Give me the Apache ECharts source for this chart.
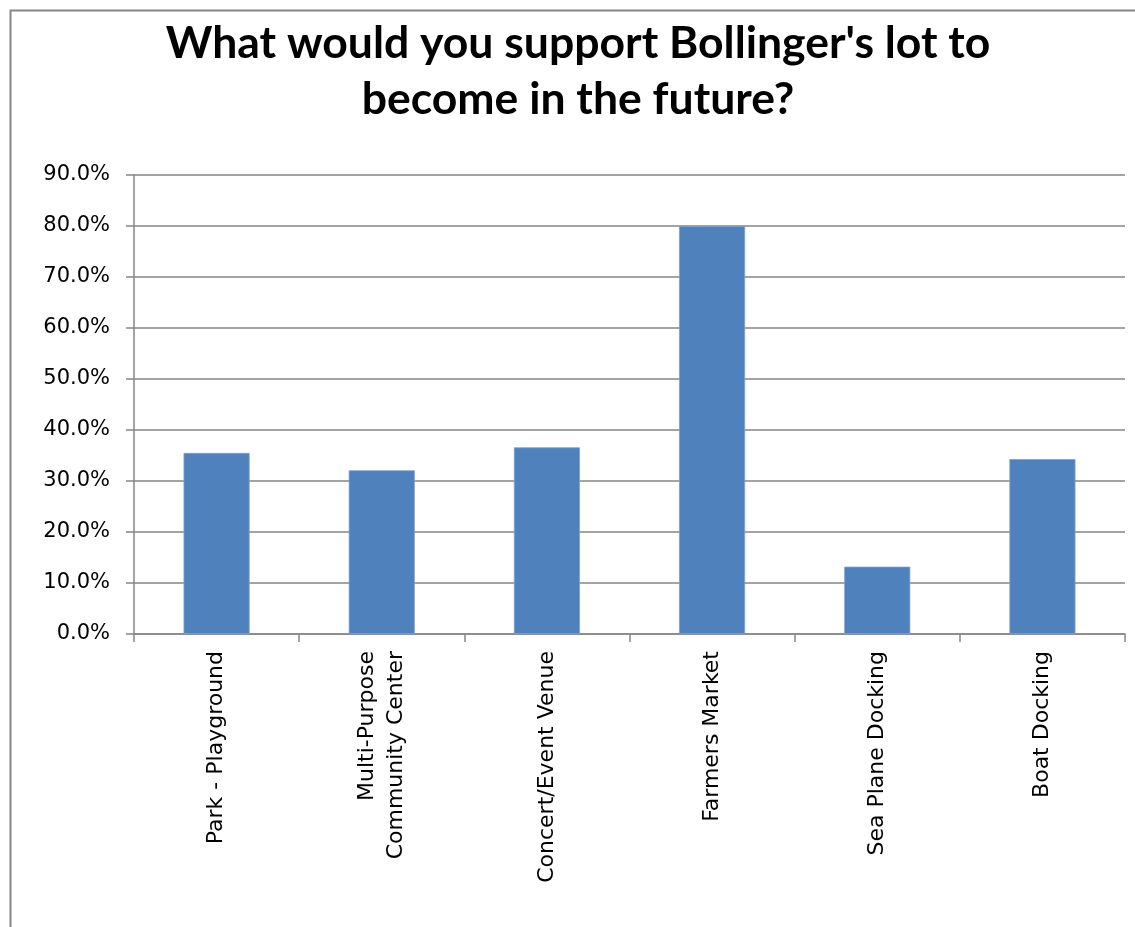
<!DOCTYPE html>
<html>
<head>
<meta charset="utf-8">
<script src="https://cdn.jsdelivr.net/npm/echarts@6/dist/echarts.min.js"></script>
<style>
html,body{margin:0;padding:0;background:#fff;}
#chart{width:1135px;height:927px;}
</style>
</head>
<body>
<div id="chart"></div>
<script>
const categories = ["Park - Playground", "Multi-Purpose\nCommunity Center", "Concert/Event Venue", "Farmers Market", "Sea Plane Docking", "Boat Docking"];
const values = [35.5, 32.1, 36.6, 80.0, 13.2, 34.3];
const titleText = "What would you support Bollinger's lot to\nbecome in the future?";

const chart = echarts.init(document.getElementById('chart'));
const gray = '#868686';
chart.setOption({
  backgroundColor: '#ffffff',
  animation: false,
  graphic: [{
    type: 'rect', left: 8, top: 8, silent: true,
    shape: { width: 2000, height: 2000 },
    style: { fill: 'none', stroke: gray, lineWidth: 2 }
  }],
  title: {
    text: titleText,
    left: 573, top: 11, textAlign: 'center',
    textStyle: { fontFamily: 'Lato', fontWeight: 'bold', fontSize: 44.5, lineHeight: 56, color: '#000' }
  },
  grid: { left: 134, right: 10, top: 175, bottom: 293, containLabel: false },
  xAxis: {
    type: 'category', data: categories,
    axisLine: { lineStyle: { color: gray, width: 1.5 } },
    axisTick: { show: true, length: 8, lineStyle: { color: gray, width: 1.5 } },
    axisLabel: { rotate: 90, interval: 0, margin: 17, color: '#000', fontFamily: 'DejaVu Sans', fontSize: 22, lineHeight: 29 }
  },
  yAxis: {
    type: 'value', min: 0, max: 90, interval: 10,
    axisLine: { show: true, lineStyle: { color: gray, width: 1.5 } },
    axisTick: { show: true, length: 8, lineStyle: { color: gray, width: 1.5 } },
    splitLine: { lineStyle: { color: gray, width: 1.5 } },
    axisLabel: { margin: 24, color: '#000', fontFamily: 'DejaVu Sans', fontSize: 21, formatter: v => v.toFixed(1) + '%' }
  },
  series: [{
    type: 'bar', data: values, barCategoryGap: '60%',
    itemStyle: { color: '#4F81BD', borderColor: '#7F9FD0', borderWidth: 0.8 }
  }]
});
</script>
</body>
</html>
